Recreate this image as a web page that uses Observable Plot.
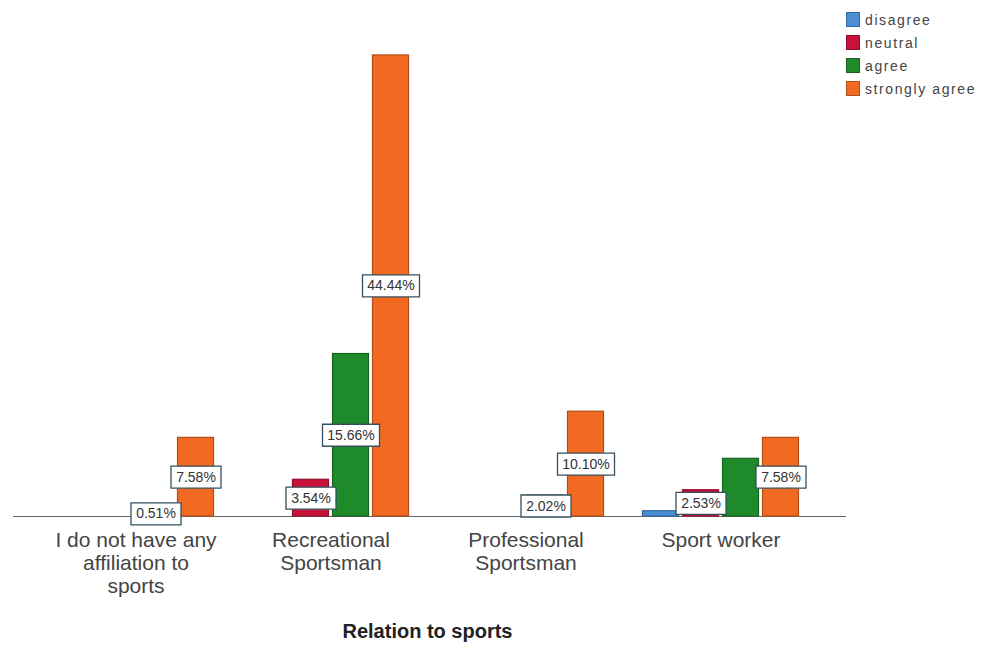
<!DOCTYPE html>
<html>
<head>
<meta charset="utf-8">
<script src="https://cdn.jsdelivr.net/npm/d3@7"></script>
<script src="https://cdn.jsdelivr.net/npm/@observablehq/plot@0.6"></script>
<style>
  body { margin: 0; background: #fff; font-family: "Liberation Sans", Arial, sans-serif; }
  #wrap { position: relative; width: 987px; height: 646px; overflow: hidden; }
  #legend { position: absolute; left: 846px; top: 8px; }
  .item { display: flex; align-items: center; height: 23px; }
  .sw { width: 14px; height: 15px; box-sizing: border-box; margin-right: 5px; }
  .lt { font-size: 14px; color: #444; letter-spacing: 1.6px; white-space: nowrap; }
  #title { position: absolute; left: 0; width: 855px; top: 620px; text-align: center;
           font-size: 20px; font-weight: bold; color: #222; }
</style>
</head>
<body>
<div id="wrap">
  <div id="chart"></div>
  <div id="legend"></div>
  <div id="title">Relation to sports</div>
</div>
<script>
// ---- data ----
const categories = ["I do not have any affiliation to sports", "Recreational Sportsman", "Professional Sportsman", "Sport worker"];
const tickLabels = ["I do not have any\naffiliation to\nsports", "Recreational\nSportsman", "Professional\nSportsman", "Sport worker"];
const responses = ["disagree", "neutral", "agree", "strongly agree"];
const disagree      = [0,    0,     0,    0.51];
const neutral       = [0,    3.54,  0,    2.53];
const agree         = [0.51, 15.66, 2.02, 5.56];
const stronglyAgree = [7.58, 44.44, 10.10, 7.58];
const hiddenLabels = [["Sport worker", "disagree"], ["Sport worker", "agree"]];
const colors = ["#4a8fd6", "#c8123a", "#1f8a2a", "#f26a22"];

// ---- table ----
const series = [disagree, neutral, agree, stronglyAgree];
const rows = [];
categories.forEach((c, i) => {
  responses.forEach((r, j) => {
    const v = series[j][i];
    if (v > 0) rows.push({category: c, response: r, value: v, label: v.toFixed(2) + "%"});
  });
});
const labelRows = rows.filter(d => !hiddenLabels.some(([c, r]) => c === d.category && r === d.response));
const darker = r => d3.color(colors[responses.indexOf(r)]).darker(0.9).formatHex();

const boxSymbol = {
  draw(context, size) {
    const n = Math.sqrt(size / Math.PI);
    const w = 7 * n + 15, h = 22;
    context.rect(-w / 2, -h / 2, w, h);
  }
};

const chart = Plot.plot({
  width: 987,
  height: 646,
  marginTop: 18,
  marginBottom: 130,
  marginLeft: 37.5,
  marginRight: 169.5,
  style: {fontFamily: "'Liberation Sans', Arial, sans-serif", background: "white"},
  fx: {domain: categories, padding: 0, label: null},
  x: {domain: responses, paddingInner: 0.1, paddingOuter: 0.4875, axis: null},
  y: {domain: [0, 48], axis: null},
  color: {domain: responses, range: colors},
  r: {type: "identity"},
  marks: [
    Plot.ruleY([0], {stroke: "#666", strokeWidth: 1.2, insetLeft: -25, insetRight: -28}),
    Plot.barY(rows, {
      fx: "category", x: "response", y: "value",
      fill: "response",
      stroke: {value: d => darker(d.response), scale: null},
      strokeWidth: 1.2
    }),
    Plot.dot(labelRows, {
      fx: "category", x: "response", y: d => d.value / 2,
      r: d => d.label.length, symbol: boxSymbol,
      fill: "white", stroke: "#34505e", strokeWidth: 1.3
    }),
    Plot.text(labelRows, {
      fx: "category", x: "response", y: d => d.value / 2,
      text: "label", fontSize: 14, fill: "#333"
    }),
    Plot.axisFx({
      anchor: "bottom",
      tickSize: 0, tickPadding: 14, fontSize: 21, lineHeight: 1.1,
      fill: "#444", label: null,
      tickFormat: d => tickLabels[categories.indexOf(d)]
    })
  ]
});
document.getElementById("chart").appendChild(chart);

// ---- legend ----
const legend = document.getElementById("legend");
responses.forEach((r, i) => {
  const item = document.createElement("div");
  item.className = "item";
  const sw = document.createElement("div");
  sw.className = "sw";
  sw.style.background = colors[i];
  sw.style.border = "1.5px solid " + darker(r);
  const t = document.createElement("span");
  t.className = "lt";
  t.textContent = r;
  item.appendChild(sw);
  item.appendChild(t);
  legend.appendChild(item);
});
</script>
</body>
</html>
